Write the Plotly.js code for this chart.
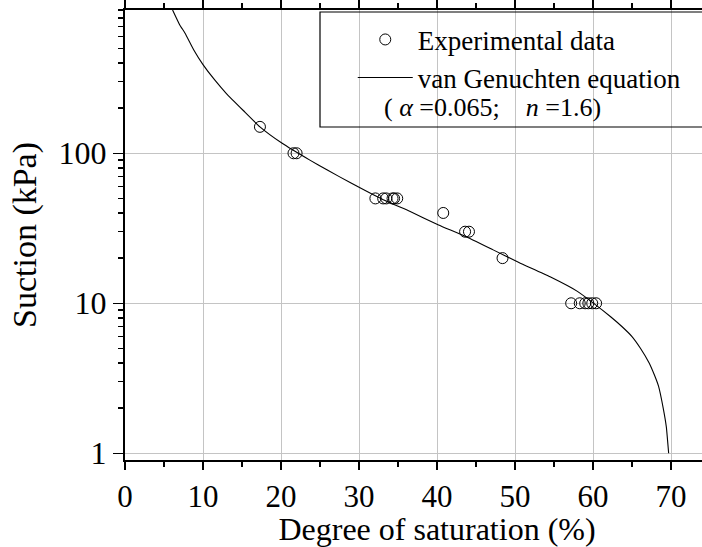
<!DOCTYPE html>
<html>
<head>
<meta charset="utf-8">
<script src="https://cdn.plot.ly/plotly-3.0.1.min.js"></script>
<style>html,body{margin:0;padding:0;background:#fff;overflow:hidden;width:702px;height:547px;}#chart{width:759px;height:547px;}</style>
</head>
<body>
<div id="chart"></div>
<script>
// Experimental data: degree of saturation (%) and suction (kPa)
const expSaturation = [17.3, 21.6, 22.0, 32.1, 33.1, 33.5, 34.3, 34.5, 34.9, 40.8, 43.6, 44.1, 48.4, 57.2, 58.3, 59.0, 59.4, 59.9, 60.4];
const expSuction    = [150, 100, 100, 50, 50, 50, 50, 50, 50, 40, 30, 30, 20, 10, 10, 10, 10, 10, 10];

// van Genuchten fitted curve (alpha = 0.065, n = 1.6)
const fitSaturation = [6.1, 7.0, 7.7, 8.8, 10.0, 11.5, 13.0, 15.2, 17.3, 20.1, 23.7, 26.0, 28.8, 33.1, 36.5, 40.2, 43.6, 47.2, 50.5, 54.5, 58.0, 60.3, 62.3, 63.7, 65.0, 66.1, 67.2, 67.9, 68.4, 69.0, 69.4, 69.7];
const fitSuction    = [902, 720, 631, 490, 390, 308, 250, 192, 150, 117, 90, 77, 64, 49, 41, 33.3, 28, 22.7, 18.7, 15.0, 12.0, 9.8, 8.1, 7.0, 6.0, 5.0, 4.0, 3.3, 2.8, 2.0, 1.5, 1.0];

const xTickVals = [0, 10, 20, 30, 40, 50, 60, 70];
const yTickVals = [1, 10, 100];
const yTickText = ['1', '10', '100'];
const yMinorVals = [2, 3, 4, 5, 6, 7, 8, 9, 20, 30, 40, 50, 60, 70, 80, 90, 200, 300, 400, 500, 600, 700, 800, 900];

const FONT = "'Liberation Serif', 'Times New Roman', Times, serif";

const traces = [
  {
    x: expSaturation, y: expSuction, type: 'scatter', mode: 'markers',
    name: 'Experimental data',
    marker: {symbol: 'circle-open', size: 11, color: '#000', line: {width: 1, color: '#000'}}
  },
  {
    x: fitSaturation, y: fitSuction, type: 'scatter', mode: 'lines',
    name: 'van Genuchten equation',
    line: {color: '#000', width: 1.1, shape: 'spline', smoothing: 0.4}
  }
];

const layout = {
  width: 759, height: 547,
  margin: {l: 125, r: 10, t: 10, b: 87},
  paper_bgcolor: '#fff', plot_bgcolor: '#fff',
  font: {family: FONT, color: '#000'},
  showlegend: true,
  legend: {
    x: 0.365, y: 0.988, xanchor: 'left', yanchor: 'top',
    bgcolor: 'rgba(0,0,0,0)', borderwidth: 0,
    font: {family: FONT, size: 27, color: '#000'},
    itemwidth: 55, tracegroupgap: 0
  },
  xaxis: {
    range: [0, 80],
    tickvals: xTickVals,
    ticks: 'outside', ticklen: 8, tickwidth: 1.5, tickcolor: '#000',
    minor: {dtick: 5, ticks: 'outside', ticklen: 5, tickwidth: 1.5, tickcolor: '#000', showgrid: false},
    showline: true, linewidth: 2, linecolor: '#000', mirror: 'allticks',
    showgrid: true, gridcolor: '#c4c4c4', gridwidth: 1,
    zeroline: false,
    tickfont: {family: FONT, size: 31, color: '#000'},
    title: {text: 'Degree of saturation (%)', font: {family: FONT, size: 32, color: '#000'}, standoff: 4}
  },
  yaxis: {
    type: 'log',
    range: [-0.0447, 2.955],
    tickvals: yTickVals, ticktext: yTickText,
    ticks: 'outside', ticklen: 10, tickwidth: 1.5, tickcolor: '#000',
    minor: {ticks: 'outside', ticklen: 5, tickwidth: 1.5, tickcolor: '#000', showgrid: false, tickvals: yMinorVals},
    showline: true, linewidth: 2, linecolor: '#000', mirror: false,
    showgrid: true, gridcolor: '#c4c4c4', gridwidth: 1,
    zeroline: false,
    tickfont: {family: FONT, size: 32, color: '#000'},
    title: {text: 'Suction (kPa)', font: {family: FONT, size: 34, color: '#000'}, standoff: 12}
  },
  shapes: [
    {type: 'rect', xref: 'paper', yref: 'paper', x0: 0.3125, x1: 0.99, y0: 0.74, y1: 0.9956,
     line: {color: '#000', width: 1.2}, fillcolor: 'rgba(0,0,0,0)', layer: 'above'}
  ],
  annotations: [
    {xref: 'paper', yref: 'paper', x: 0.414, y: 0.784, xanchor: 'left', yanchor: 'middle',
     text: '(&nbsp;<i>α</i>&nbsp;=0.065;&nbsp;&nbsp;&nbsp;&nbsp;<i>n</i>&nbsp;=1.6)', showarrow: false,
     font: {family: FONT, size: 26, color: '#000'}, borderpad: 0}
  ]
};

Plotly.newPlot('chart', traces, layout, {displayModeBar: false, staticPlot: true});
</script>
</body>
</html>
